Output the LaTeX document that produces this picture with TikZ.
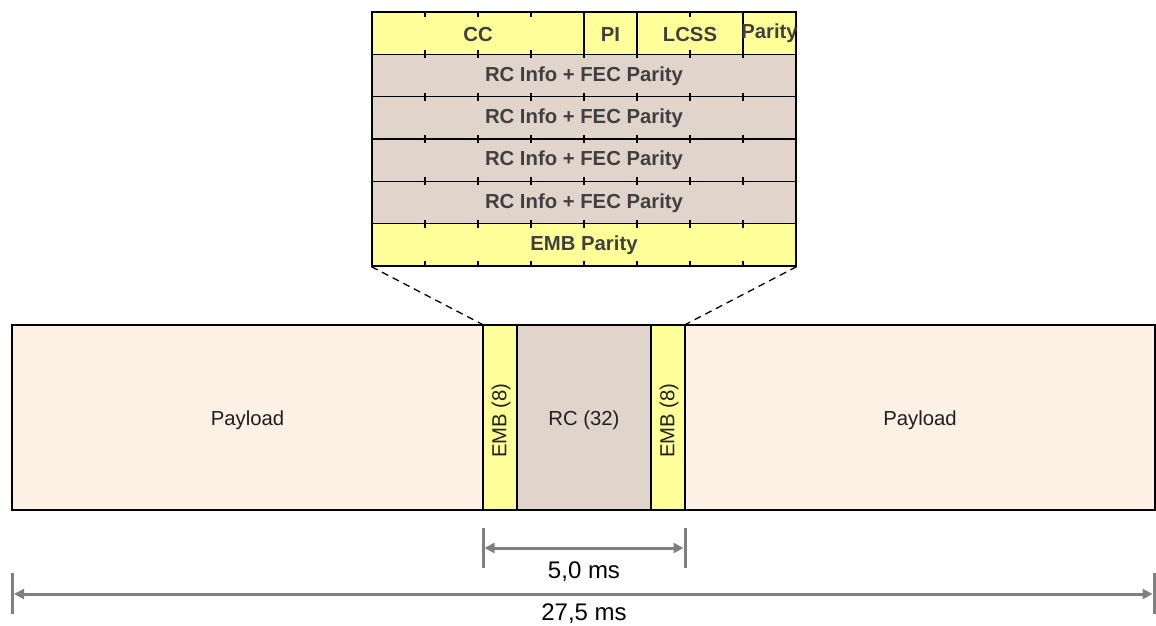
\documentclass[tikz,border=0pt]{standalone}
\usepackage{fontspec}
\setmainfont{Liberation Sans}
\usetikzlibrary{arrows.meta}
\definecolor{yel}{RGB}{255,255,153}
\definecolor{rcc}{RGB}{224,212,203}
\definecolor{pay}{RGB}{253,240,228}
\definecolor{tgray}{RGB}{64,64,64}
\definecolor{dimgray}{RGB}{128,128,128}
\tikzset{
  cell/.style={draw=black, line width=1.3pt, inner sep=0pt, minimum height=42.33pt},
  tbltext/.style={font=\fontsize{20.3}{23}\selectfont\bfseries, text=tgray, inner sep=0pt},
  bar/.style={draw=black, line width=1.3pt, inner sep=0pt, minimum height=185pt},
  bartext/.style={font=\fontsize{20.3}{23}\selectfont, text=black!88, inner sep=0pt},
  tick/.style={line width=1.3pt},
  zoomline/.style={dashed, dash pattern=on 7pt off 5pt, line width=1.3pt},
  dimbar/.style={draw=dimgray, line width=3pt},
  dimarrow/.style={draw=dimgray, line width=3pt, {Triangle[length=10pt,width=10pt]}-{Triangle[length=10pt,width=10pt]}, shorten <=1.5pt, shorten >=1.5pt},
  dimtext/.style={font=\fontsize{24}{27}\selectfont, text=black, inner sep=0pt}
}
\begin{document}
\begin{tikzpicture}[x=1pt,y=-1pt]
\useasboundingbox (0,0) rectangle (1156,626);
% ---- top table ----
\node[cell, fill=yel, minimum width=212pt] (cc) at (478,33.17) {};
\node[cell, fill=yel, minimum width=53pt] (pi) at (610.5,33.17) {};
\node[cell, fill=yel, minimum width=106pt] (lcss) at (690,33.17) {};
\node[cell, fill=yel, minimum width=53pt] (par) at (769.5,33.17) {};
\node[tbltext] at ([yshift=-1pt]cc) {CC};
\node[tbltext] at ([yshift=-1pt]pi) {PI};
\node[tbltext] at ([yshift=-1pt]lcss) {LCSS};
\node[tbltext] at ([yshift=-0.5pt]par) {Parity};
\node[cell, fill=rcc, minimum width=424pt] (r2) at (584,75.5) {};
\node[cell, fill=rcc, minimum width=424pt] (r3) at (584,117.83) {};
\node[cell, fill=rcc, minimum width=424pt] (r4) at (584,160.17) {};
\node[cell, fill=rcc, minimum width=424pt] (r5) at (584,202.5) {};
\node[cell, fill=yel, minimum width=424pt] (r6) at (584,244.83) {};
\foreach \r in {r2,r3,r4,r5}{\node[tbltext] at ([yshift=-0.5pt]\r) {RC Info + FEC Parity};}
\node[tbltext] at ([yshift=-0.5pt]r6) {EMB Parity};
% ticks
\foreach \k in {1,...,7}{
  \pgfmathsetmacro{\xx}{372+53*\k}
  \draw[tick] (\xx,12) -- (\xx,17);
  \draw[tick] (\xx,261) -- (\xx,266);
  \foreach \yy in {54.33,96.67,139,181.33,223.67}{
    \draw[tick] (\xx,\yy-4) -- (\xx,\yy+4);
  }
}
% ---- main bar ----
\node[bar, fill=pay, minimum width=471pt] (payl) at (247.5,417.5) {};
\node[bar, fill=yel, minimum width=34pt] (emb1) at (500,417.5) {};
\node[bar, fill=rcc, minimum width=134pt] (rc) at (584,417.5) {};
\node[bar, fill=yel, minimum width=34pt] (emb2) at (668,417.5) {};
\node[bar, fill=pay, minimum width=470pt] (payr) at (920,417.5) {};
\node[bartext] at ([yshift=-3pt]payl) {Payload};
\node[bartext] at ([yshift=-3pt]payr) {Payload};
\node[bartext] at ([yshift=-3pt]rc) {RC (32)};
\node[bartext, rotate=90] at ([xshift=1pt,yshift=-3pt]emb1) {EMB (8)};
\node[bartext, rotate=90] at ([xshift=1pt,yshift=-3pt]emb2) {EMB (8)};
% zoom lines
\draw[zoomline] (r6.south west) -- (emb1.north west);
\draw[zoomline] (r6.south east) -- (emb2.north east);
% ---- dimensions ----
\coordinate (a1) at (483,528);
\coordinate (a2) at (483,568);
\coordinate (a3) at (685,528);
\coordinate (a4) at (685,568);
\coordinate (am1) at (483,548);
\coordinate (am2) at (685,548);
\draw[dimbar] (a1) -- (a2);
\draw[dimbar] (a3) -- (a4);
\draw[dimarrow] (am1) -- (am2);
\node[dimtext] (t1) at (584,572) {5,0 ms};
\coordinate (b1) at (12.5,573);
\coordinate (b2) at (12.5,614);
\coordinate (b3) at (1154,573);
\coordinate (b4) at (1154,614);
\coordinate (bm1) at (12.5,594);
\coordinate (bm2) at (1154,594);
\draw[dimbar] (b1) -- (b2);
\draw[dimbar] (b3) -- (b4);
\draw[dimarrow] (bm1) -- (bm2);
\node[dimtext] (t2) at (584,613.5) {27,5 ms};
\end{tikzpicture}
\end{document}
